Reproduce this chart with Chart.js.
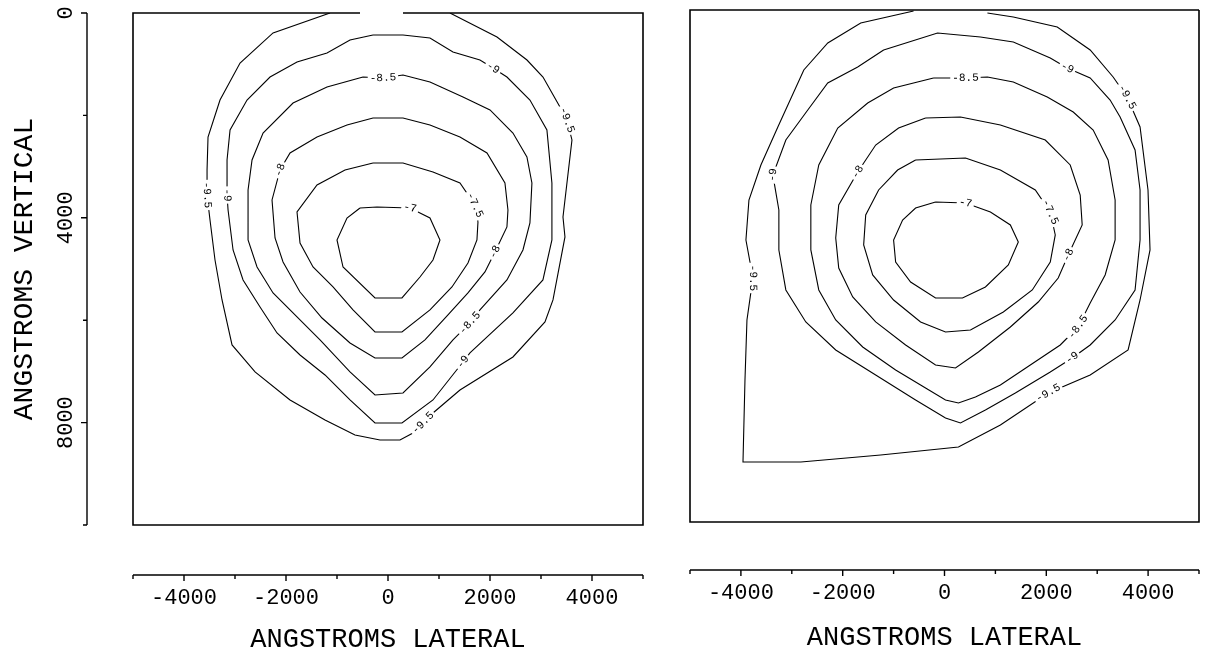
<!DOCTYPE html>
<html>
<head>
<meta charset="utf-8">
<script src="https://cdn.jsdelivr.net/npm/chart.js@4.4.0/dist/chart.umd.min.js"></script>
<style>
  html, body { margin: 0; background: #fff; }
  #wrap { position: relative; width: 1208px; height: 648px; }
  canvas { position: absolute; left: 0; top: 0; }
</style>
</head>
<body>
<div id="wrap">
  <canvas id="leftPlot" width="1208" height="648"></canvas>
  <canvas id="rightPlot" width="1208" height="648"></canvas>
</div>
<script>
// contour levels (same for both panels)
const levels = ['-7', '-7.5', '-8', '-8.5', '-9', '-9.5'];
const lateralTicks = [-4000, -2000, 0, 2000, 4000];
const verticalTicks = [0, 4000, 8000];

// left panel, [lateral, vertical] in angstroms
const left7 = [[-549,3808],[-216,3789],[431,3808],[823,4004],[1019,4433],[882,4824],[627,5156],[274,5566],[-255,5566],[-882,4961],[-1000,4433],[-804,4004],[-549,3808]];
const left75 = [[-294,2930],[294,2930],[882,3105],[1411,3320],[1705,3750],[1764,4082],[1744,4433],[1568,4883],[1254,5351],[823,5800],[274,6230],[-255,6230],[-686,5800],[-1078,5351],[-1470,4961],[-1725,4492],[-1784,3886],[-1392,3359],[-843,3066],[-294,2930]];
const left8 = [[-294,2051],[294,2051],[823,2187],[1411,2422],[1941,2734],[2293,3320],[2352,3847],[2332,4179],[2097,4668],[1901,5058],[1568,5468],[1176,5898],[725,6386],[274,6738],[-255,6738],[-745,6445],[-1294,5957],[-1725,5449],[-2058,4863],[-2215,4394],[-2274,3652],[-2117,3066],[-1921,2734],[-1392,2422],[-804,2187],[-294,2051]];
const left85 = [[-490,1250],[-98,1269],[294,1211],[823,1348],[1470,1641],[2000,1894],[2450,2344],[2724,2812],[2822,3320],[2783,4101],[2646,4628],[2332,5214],[1803,5800],[1607,6054],[1274,6386],[823,6913],[294,7421],[-255,7460],[-745,7011],[-1333,6386],[-1784,5937],[-2254,5468],[-2568,4960],[-2744,4433],[-2744,3457],[-2666,2871],[-2450,2344],[-1862,1758],[-1196,1445],[-490,1250]];
const left9 = [[-294,430],[294,430],[823,488],[1274,762],[1803,918],[2058,1074],[2332,1250],[2783,1699],[3116,2285],[3214,3320],[3214,4433],[3038,5214],[2450,5859],[1607,6640],[1470,6816],[882,7558],[274,8007],[-255,8007],[-745,7558],[-1235,7070],[-1725,6679],[-2176,6250],[-2509,5742],[-2842,5214],[-3038,4628],[-3136,3847],[-3156,3554],[-3156,2871],[-3097,2285],[-2764,1699],[-2313,1250],[-1784,957],[-1196,781],[-745,527],[-294,430]];
const left95 = [[-1137,0],[-2254,390],[-2901,976],[-3294,1699],[-3529,2422],[-3548,3066],[-3548,3554],[-3490,4042],[-3392,4824],[-3254,5605],[-3058,6484],[-2607,7011],[-1921,7558],[-1235,7949],[-647,8242],[-157,8339],[235,8339],[490,8203],[686,8007],[882,7812],[1411,7363],[2450,6718],[3078,6035],[3235,5605],[3470,4374],[3431,3984],[3607,2480],[3509,2090],[3372,1836],[3039,1250],[2725,918],[2137,469],[1215,0]];
// [level index, point index] where each label sits
const leftLabels = [[0,2],[1,4],[2,8],[2,21],[3,1],[3,13],[4,5],[4,14],[4,26],[5,6],[5,18],[5,27]];

// right panel
const right7 = [[-176,3750],[412,3769],[902,3945],[1294,4199],[1450,4531],[1254,4980],[804,5410],[353,5625],[-176,5625],[-666,5312],[-960,4922],[-1000,4492],[-823,4101],[-568,3867],[-176,3750]];
const right75 = [[-568,2930],[412,2890],[1098,3125],[1784,3515],[2078,3945],[2176,4394],[2078,4922],[1725,5468],[1156,5898],[510,6250],[20,6289],[-470,6093],[-1000,5664],[-1411,5175],[-1588,4589],[-1548,4004],[-1294,3515],[-921,3125],[-568,2930]];
const right8 = [[-372,2109],[314,2090],[1098,2246],[1980,2539],[2470,3027],[2666,3613],[2705,4199],[2431,4785],[2234,5234],[1842,5703],[1294,6191],[666,6679],[216,6992],[-176,6933],[-764,6543],[-1352,6093],[-1803,5605],[-2078,5039],[-2137,4453],[-2078,3808],[-1705,3164],[-1352,2637],[-902,2305],[-372,2109]];
const right85 = [[-216,1328],[412,1328],[843,1308],[1352,1406],[2019,1699],[2529,1992],[2921,2344],[3214,2930],[3352,3711],[3352,4492],[3156,5175],[2862,5722],[2626,6191],[2274,6543],[1686,6933],[1098,7324],[608,7558],[274,7675],[20,7617],[-372,7382],[-960,7031],[-1607,6582],[-2137,6054],[-2470,5468],[-2626,4687],[-2626,3808],[-2470,3027],[-2097,2305],[-1509,1816],[-1000,1523],[-216,1328]];
const right9 = [[-1196,781],[-137,449],[706,527],[1352,625],[2078,937],[2411,1133],[2862,1328],[3254,1758],[3450,2090],[3744,2734],[3842,3515],[3842,4492],[3744,5468],[3352,6054],[2862,6543],[2509,6796],[2078,7070],[1392,7480],[804,7812],[314,8066],[20,7968],[-568,7617],[-1352,7128],[-2137,6640],[-2725,6093],[-3117,5468],[-3254,4687],[-3254,3906],[-3372,3222],[-3117,2539],[-2686,1953],[-2294,1426],[-1705,1113],[-1196,781]];
const right95 = [[-608,20],[-1646,254],[-2293,644],[-2764,1172],[-3274,2285],[-3607,3027],[-3842,3711],[-3901,4492],[-3764,5234],[-3881,6054],[-3920,7226],[-3959,8828],[-2822,8828],[-1254,8691],[274,8535],[1098,8105],[2038,7480],[2862,7128],[3607,6640],[3842,5664],[4038,4687],[3998,3515],[3842,2285],[3587,1699],[3313,1308],[2862,781],[2215,332],[1352,137],[843,59]];
const rightLabels = [[0,1],[1,4],[2,7],[2,20],[3,1],[3,12],[4,5],[4,15],[4,28],[5,8],[5,16],[5,23]];

const MONO = '"Liberation Mono", "DejaVu Sans Mono", monospace';

function toPoints(arr) {
  return arr.map(p => ({ x: p[0], y: p[1] }));
}

// box, detached axes and in-line contour labels
function framePlugin(opt) {
  return {
    id: 'frame',
    afterDatasetsDraw(chart) {
      const { ctx, chartArea: a, scales: { x, y } } = chart;
      ctx.save();
      ctx.strokeStyle = '#000';
      ctx.fillStyle = '#000';

      // box
      ctx.lineWidth = 1.6;
      ctx.beginPath();
      if (opt.topGap) {
        ctx.moveTo(x.getPixelForValue(opt.topGap[0]), a.top);
        ctx.lineTo(a.left, a.top);
      } else {
        ctx.moveTo(a.right, a.top);
        ctx.lineTo(a.left, a.top);
      }
      ctx.lineTo(a.left, a.bottom);
      ctx.lineTo(a.right, a.bottom);
      ctx.lineTo(a.right, a.top);
      if (opt.topGap) ctx.lineTo(x.getPixelForValue(opt.topGap[1]), a.top);
      ctx.stroke();

      // contour labels
      ctx.font = '11px ' + MONO;
      ctx.textAlign = 'center';
      ctx.textBaseline = 'middle';
      opt.labels.forEach(([li, pi]) => {
        const line = opt.lines[li];
        const p = line[pi], p0 = line[Math.max(0, pi - 1)], p1 = line[Math.min(line.length - 1, pi + 1)];
        const px = x.getPixelForValue(p[0]), py = y.getPixelForValue(p[1]);
        let ang = Math.atan2(y.getPixelForValue(p1[1]) - y.getPixelForValue(p0[1]),
                             x.getPixelForValue(p1[0]) - x.getPixelForValue(p0[0]));
        if (ang > Math.PI / 2) ang -= Math.PI;
        if (ang <= -Math.PI / 2) ang += Math.PI;
        const txt = levels[li];
        const w = ctx.measureText(txt).width + 4;
        ctx.save();
        ctx.translate(px, py);
        ctx.rotate(ang);
        ctx.fillStyle = '#fff';
        ctx.fillRect(-w / 2, -6, w, 12);
        ctx.fillStyle = '#000';
        ctx.fillText(txt, 0, 0);
        ctx.restore();
      });

      // lateral axis below the box
      ctx.lineWidth = 1.4;
      const ay = opt.axisY;
      ctx.beginPath();
      ctx.moveTo(a.left, ay);
      ctx.lineTo(a.right, ay);
      for (let v = -5000; v <= 5000; v += 1000) {
        const tx = x.getPixelForValue(v);
        ctx.moveTo(tx, ay);
        ctx.lineTo(tx, ay + (v % 2000 === 0 ? 6 : 4));
      }
      ctx.stroke();
      ctx.font = '22px ' + MONO;
      ctx.textAlign = 'center';
      ctx.textBaseline = 'middle';
      lateralTicks.forEach(v => ctx.fillText(String(v), x.getPixelForValue(v), ay + 23));
      ctx.font = '27px ' + MONO;
      ctx.fillText('ANGSTROMS LATERAL', (a.left + a.right) / 2, opt.titleY);

      // vertical axis left of the box
      if (opt.axisX) {
        const ax = opt.axisX;
        ctx.beginPath();
        ctx.moveTo(ax, a.top);
        ctx.lineTo(ax, a.bottom);
        for (let v = 0; v <= 10000; v += 2000) {
          const ty = y.getPixelForValue(v);
          ctx.moveTo(ax, ty);
          ctx.lineTo(ax - (v % 4000 === 0 ? 6 : 4), ty);
        }
        ctx.stroke();
        ctx.font = '22px ' + MONO;
        verticalTicks.forEach(v => {
          ctx.save();
          ctx.translate(ax - 21, y.getPixelForValue(v));
          ctx.rotate(-Math.PI / 2);
          ctx.fillText(String(v), 0, 0);
          ctx.restore();
        });
        ctx.font = '28px ' + MONO;
        ctx.save();
        ctx.translate(25, (a.top + a.bottom) / 2);
        ctx.rotate(-Math.PI / 2);
        ctx.fillText('ANGSTROMS VERTICAL', 0, 0);
        ctx.restore();
      }
      ctx.restore();
    }
  };
}

function makePanel(id, lines, labels, padding, extra) {
  new Chart(document.getElementById(id), {
    type: 'scatter',
    data: {
      datasets: lines.map((l, i) => ({
        label: levels[i],
        data: toPoints(l),
        showLine: true,
        borderColor: '#000',
        borderWidth: 1.1,
        pointRadius: 0,
        tension: 0,
        fill: false
      }))
    },
    options: {
      responsive: false,
      animation: false,
      layout: { padding: padding },
      plugins: { legend: { display: false }, tooltip: { enabled: false } },
      scales: {
        x: { type: 'linear', min: -5000, max: 5000, display: false },
        y: { type: 'linear', min: 0, max: 10000, reverse: true, display: false }
      }
    },
    plugins: [framePlugin(Object.assign({ lines: lines, labels: labels }, extra))]
  });
}

makePanel('leftPlot', [left7, left75, left8, left85, left9, left95], leftLabels,
  { left: 133, top: 13, right: 565, bottom: 123 },
  { axisY: 575, axisX: 87, titleY: 640, topGap: [-549, 294] });

makePanel('rightPlot', [right7, right75, right8, right85, right9, right95], rightLabels,
  { left: 690, top: 10, right: 9, bottom: 126 },
  { axisY: 570, titleY: 638 });
</script>
</body>
</html>
